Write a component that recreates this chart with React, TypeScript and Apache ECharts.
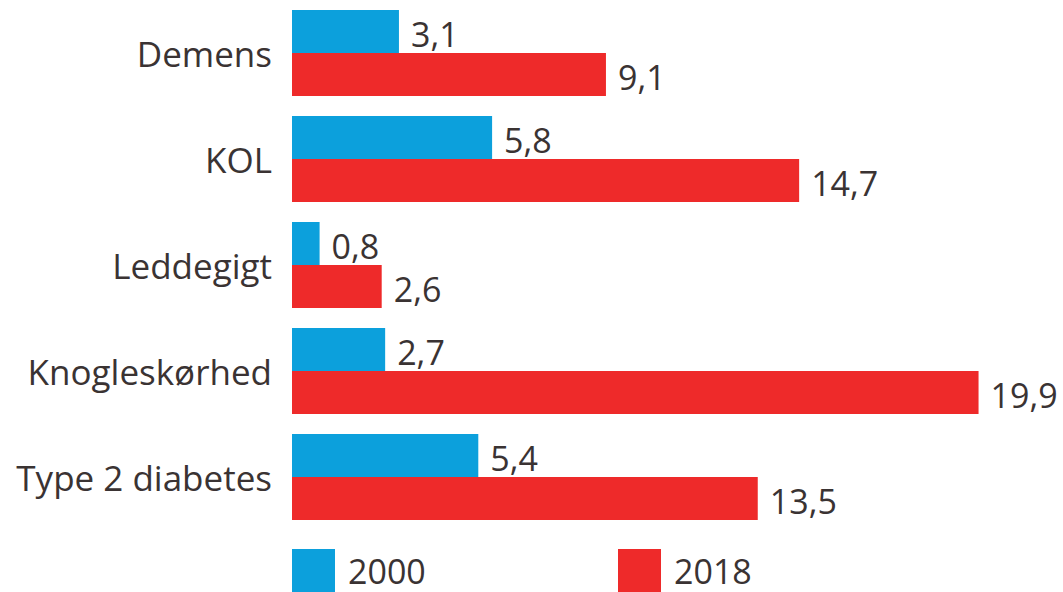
import React, { useEffect, useRef } from "react";
import * as echarts from "echarts";

const categories = ["Demens", "KOL", "Leddegigt", "Knogleskørhed", "Type 2 diabetes"];
const values2000 = [3.1, 5.8, 0.8, 2.7, 5.4];
const values2018 = [9.1, 14.7, 2.6, 19.9, 13.5];
const seriesNames = ["2000", "2018"];

const BLUE = "#0ca0dc";
const RED = "#ee2a2a";
const TEXT = "#3a3333";
const FONT = "'Open Sans', 'Noto Sans', sans-serif";

export default function App() {
  const ref = useRef<HTMLDivElement>(null);
  useEffect(() => {
    if (!ref.current) return;
    const chart = echarts.init(ref.current, undefined, { renderer: "svg" });
    const fmt = (p: any) => String(p.value).replace(".", ",");
    const label = {
      show: true,
      position: "right",
      distance: 12,
      offset: [0, 2],
      fontSize: 34,
      fontFamily: FONT,
      color: TEXT,
      formatter: fmt,
    };
    const legendCommon = {
      orient: "horizontal",
      top: 549,
      padding: 0,
      itemWidth: 43,
      itemHeight: 43,
      icon: "rect",
      selectedMode: false,
      textStyle: { fontSize: 34, fontFamily: FONT, color: TEXT, padding: [0, 0, 0, 8] },
    };
    chart.setOption({
      animation: false,
      backgroundColor: "#ffffff",
      textStyle: { fontFamily: FONT },
      grid: { left: 292, right: 12, top: 0, height: 530, containLabel: false },
      legend: [
        { ...legendCommon, left: 292, data: [seriesNames[0]] },
        { ...legendCommon, left: 618, data: [seriesNames[1]] },
      ],
      xAxis: {
        type: "value",
        min: 0,
        max: 22,
        show: false,
        splitLine: { show: false },
      },
      yAxis: {
        type: "category",
        data: categories,
        inverse: true,
        axisLine: { show: false },
        axisTick: { show: false },
        splitLine: { show: false },
        axisLabel: { margin: 20, fontSize: 35, fontFamily: FONT, color: TEXT },
      },
      series: [
        {
          name: seriesNames[0],
          type: "bar",
          data: values2000,
          barWidth: 43,
          barGap: "0%",
          itemStyle: { color: BLUE },
          label,
        },
        {
          name: seriesNames[1],
          type: "bar",
          data: values2018,
          barWidth: 43,
          barGap: "0%",
          itemStyle: { color: RED },
          label,
        },
      ],
    });
    return () => chart.dispose();
  }, []);
  return (
    <div
      ref={ref}
      style={{ position: "absolute", left: 0, top: 0, width: 1063, height: 592, background: "#fff" }}
    />
  );
}
